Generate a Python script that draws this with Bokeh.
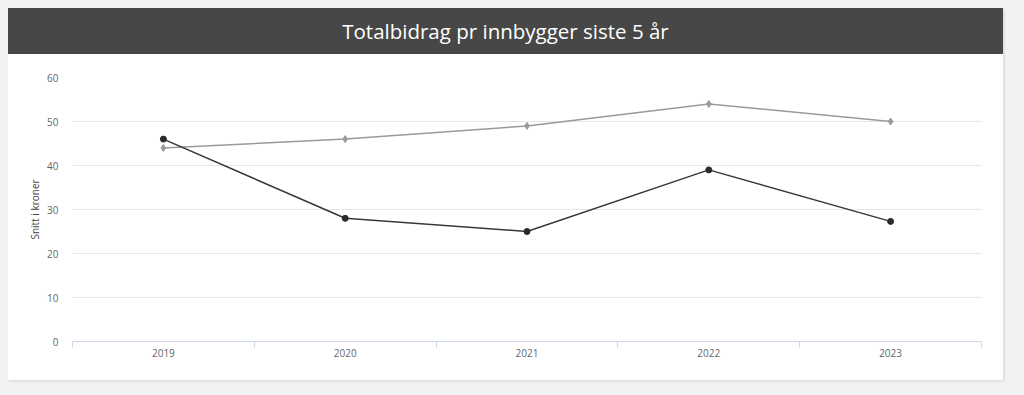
from bokeh.plotting import figure
from bokeh.models import (Range1d, FixedTicker, Div, Column, GlobalInlineStyleSheet)
from bokeh.embed import file_html
from bokeh.resources import INLINE

years = ["2019", "2020", "2021", "2022", "2023"]
series_light = [44, 46, 49, 54, 50]
series_dark = [46, 28, 25, 39, 27.3]
y_ticks = [0, 10, 20, 30, 40, 50, 60]
title_text = "Totalbidrag pr innbygger siste 5 år"
y_label = "Snitt i kroner"

xs = [i + 0.5 for i in range(len(years))]

W = 995
title_div = Div(
    text=title_text, width=W, height=46, margin=0,
    styles={"background-color": "#474747", "color": "#ffffff",
            "font-family": "Open Sans", "font-size": "20.5px",
            "font-weight": "normal",
            "text-align": "center", "line-height": "46px",
            "width": f"{W}px", "height": "46px"},
)

p = figure(width=W, height=326, output_backend="svg", toolbar_location=None,
           x_range=Range1d(0, len(years)), y_range=Range1d(0, 60),
           min_border_left=64, min_border_right=22, min_border_top=23,
           min_border_bottom=39, margin=0)
p.background_fill_color = "white"
p.border_fill_color = "white"
p.outline_line_color = None

p.xgrid.visible = False
p.ygrid.ticker = FixedTicker(ticks=y_ticks)
p.ygrid.grid_line_color = "#e6e6e6"
p.ygrid.grid_line_width = 1

xa = p.xaxis[0]
xa.ticker = FixedTicker(ticks=xs, minor_ticks=list(range(len(years) + 1)))
xa.major_label_overrides = {x: y for x, y in zip(xs, years)}
xa.axis_line_color = "#ccd6eb"
xa.major_tick_out = 0
xa.major_tick_in = 0
xa.minor_tick_out = 6
xa.minor_tick_in = 0
xa.minor_tick_line_color = "#ccd6eb"
xa.major_label_standoff = 1
xa.major_label_text_font = "Open Sans"
xa.major_label_text_font_size = "10px"
xa.major_label_text_color = "#666666"

ya = p.yaxis[0]
ya.ticker = FixedTicker(ticks=y_ticks)
ya.axis_line_color = None
ya.major_tick_line_color = None
ya.minor_tick_line_color = None
ya.major_label_standoff = 8
ya.major_label_text_font = "Open Sans"
ya.major_label_text_font_size = "10px"
ya.major_label_text_color = "#666666"
ya.axis_label = y_label
ya.axis_label_text_font = "Open Sans"
ya.axis_label_text_font_size = "10px"
ya.axis_label_text_font_style = "normal"
ya.axis_label_text_color = "#444444"
ya.axis_label_standoff = 2

p.line(xs, series_light, line_color="#9a9a9a", line_width=1.5)
p.scatter(xs, series_light, marker="diamond", size=7, fill_color="#9a9a9a",
          line_color="#9a9a9a")
p.line(xs, series_dark, line_color="#383838", line_width=1.5)
p.scatter(xs, series_dark, marker="circle", size=6, fill_color="#2b2b2b",
          line_color="#2b2b2b")

layout = Column(title_div, p, spacing=0, margin=0,
                styles={"box-shadow": "1px 1px 3px rgba(0,0,0,0.12)",
                        "background-color": "white"})
layout.stylesheets = [GlobalInlineStyleSheet(css="body{background:#f2f2f2;margin:8px;}")]

open("out.html", "w").write(file_html(layout, INLINE))
